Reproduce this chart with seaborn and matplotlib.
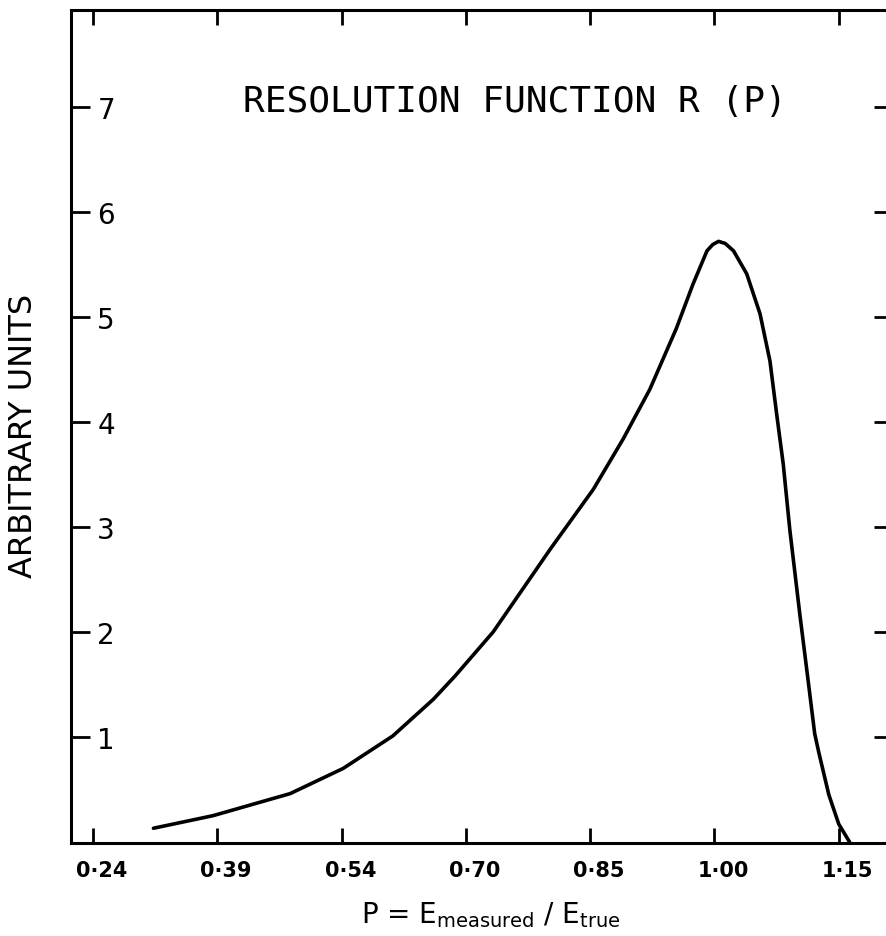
import matplotlib
matplotlib.use("Agg")
import matplotlib.pyplot as plt
from matplotlib.transforms import ScaledTranslation
import pandas as pd
import seaborn as sns

# ---- data ----
p_values = [0.323, 0.395, 0.488, 0.552, 0.612, 0.661, 0.687, 0.733, 0.802,
            0.854, 0.890, 0.922, 0.954, 0.974, 0.991, 0.998, 1.005, 1.013,
            1.023, 1.039, 1.055, 1.067, 1.075, 1.083, 1.091, 1.103, 1.113,
            1.121, 1.126, 1.138, 1.150, 1.163]
r_values = [0.13, 0.25, 0.46, 0.70, 1.01, 1.36, 1.58, 2.00, 2.79,
            3.36, 3.84, 4.31, 4.89, 5.31, 5.63, 5.69, 5.72, 5.70,
            5.63, 5.41, 5.03, 4.58, 4.08, 3.60, 2.97, 2.17, 1.54,
            1.03, 0.85, 0.45, 0.17, 0.00]
x_tick_pos = [0.25, 0.40, 0.55, 0.70, 0.85, 1.00, 1.15]
x_tick_labels = ["0·24", "0·39", "0·54", "0·70", "0·85", "1·00", "1·15"]
y_ticks = [1, 2, 3, 4, 5, 6, 7]
y_tick_labels = ["1", "2", "3", "4", "5", "6", "7"]
title_text = "RESOLUTION FUNCTION R (P)"
y_label = "ARBITRARY UNITS"
x_label = r"P = E$_{\rm measured}$ / E$_{\rm true}$"

sns.set_theme(style="white")
plt.rcParams["font.family"] = ["DejaVu Sans"]
plt.rcParams["mathtext.fontset"] = "dejavusans"
plt.rcParams["text.color"] = "black"
plt.rcParams["axes.labelcolor"] = "black"

fig = plt.figure(figsize=(8.87, 9.37), dpi=100)
ax = fig.add_axes([0.080, 0.0993, 0.9267, 0.889])

df = pd.DataFrame({"P": p_values, "R": r_values})
sns.lineplot(data=df, x="P", y="R", sort=False, color="black",
             linewidth=2.6, ax=ax)

ax.set_xlim(0.2235, 1.2154)
ax.set_ylim(-0.01, 7.924)

for s in ax.spines.values():
    s.set_visible(True)
    s.set_color("black")
    s.set_linewidth(2.2)

ax.set_xticks(x_tick_pos)
ax.set_xticklabels(x_tick_labels, fontsize=15, fontweight="bold", color="black")
ax.tick_params(axis="x", direction="in", length=11, width=2, colors="black",
               top=True, bottom=True, pad=12)
offset = ScaledTranslation(9 / 100, 0, fig.dpi_scale_trans)
for lab in ax.get_xticklabels():
    lab.set_transform(lab.get_transform() + offset)

ax.set_yticks(y_ticks)
ax.set_yticklabels(y_tick_labels, fontsize=20, ha="left", color="black")
ax.tick_params(axis="y", direction="in", length=14, width=2, colors="black",
               left=True, right=True, pad=-19)

ax.set_xlabel(x_label, fontsize=20, va="center", color="black")
ax.xaxis.set_label_coords(0.511, -0.085)
ax.set_ylabel(y_label, fontsize=23, va="center", color="black")
ax.yaxis.set_label_coords(-0.058, 0.49)

ax.text(0.540, 0.891, title_text, transform=ax.transAxes, ha="center",
        va="center", fontsize=26, family="DejaVu Sans Mono", color="black")

fig.savefig("out.png", dpi=100)
